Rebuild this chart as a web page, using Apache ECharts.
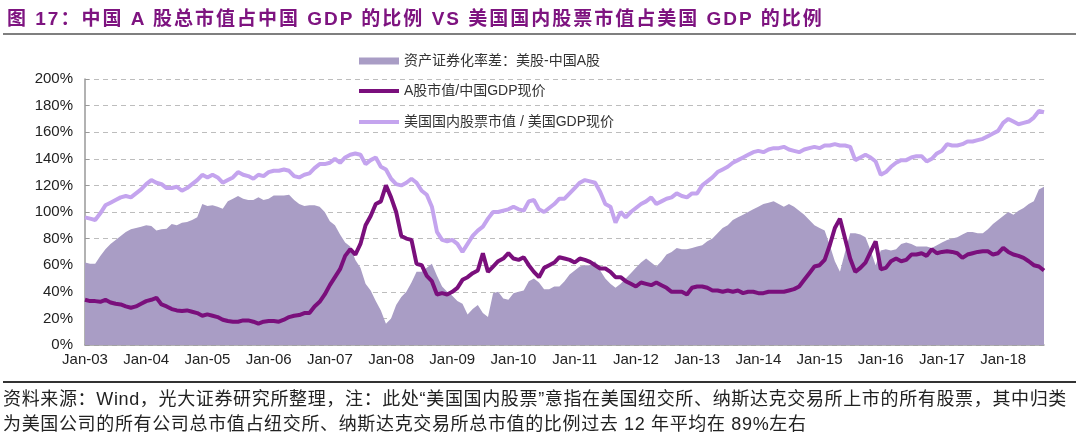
<!DOCTYPE html>
<html><head><meta charset="utf-8">
<script src="https://cdn.jsdelivr.net/npm/echarts@6/dist/echarts.min.js"></script>
<style>
html,body{margin:0;padding:0;background:#fff}
#wrap{position:relative;width:1080px;height:438px}
#c{position:absolute;left:0;top:0;width:1080px;height:438px}
.t{position:absolute;white-space:nowrap;font-family:"Liberation Sans",Arial,"Noto Sans CJK SC",sans-serif}
#title{left:7px;top:3px;font-size:19px;font-weight:bold;color:#7e1480;letter-spacing:2px}
#n1{left:3px;top:384px;font-size:18px;color:#222;letter-spacing:0.65px}
#n2{left:3px;top:409px;font-size:18px;color:#222;letter-spacing:0.65px}
</style>
</head><body><div id="wrap"><div id="c"></div>
<div class="t" id="title"></div><div class="t" id="n1"></div><div class="t" id="n2"></div></div>
<script>
// Monthly data, Jan-2003 .. Sep-2018 (values in %)
const monthNames = ['Jan','Feb','Mar','Apr','May','Jun','Jul','Aug','Sep','Oct','Nov','Dec'];
const firstYear = 2003;
const monthCount = 189;

const seriesNames = ['资产证券化率差：美股-中国A股', 'A股市值/中国GDP现价', '美国国内股票市值 / 美国GDP现价'];

const gapValues = [
  62, 61, 61, 67, 72, 76, 79, 82, 85, 87, 88, 89,
  90, 89.5, 86, 87, 87.5, 91, 90, 92, 92.5, 94, 96, 106,
  104.5, 105, 104, 102.5, 108, 110, 112, 110, 109, 109, 111, 109,
  110, 112.5, 112.5, 112.5, 113, 109, 106, 104.5, 105, 105, 104, 100,
  93, 90, 83, 77, 74, 64, 58, 46, 41, 33, 26, 16,
  20, 30, 36, 40, 47, 55, 55, 58, 61, 52, 44, 40,
  37, 33, 31, 23, 27, 30, 24, 21, 39, 40, 35, 34,
  39, 40, 41, 48, 50, 47, 42, 42, 44, 44, 48, 53,
  56, 59, 60, 60, 63, 56, 50, 46, 43, 46, 50, 54,
  58, 62, 65, 62, 59, 63, 68, 70, 73, 72, 72, 73,
  74, 75, 78, 80, 84, 88, 90, 94, 96, 98, 100, 102,
  104, 106, 107, 108, 106, 104, 106, 104, 101, 98, 94, 90,
  88, 86, 75, 63, 55, 70, 84, 84, 83, 81, 71, 60,
  71, 72, 71, 72, 76, 77, 76, 74, 74, 74, 73, 75,
  77, 79, 80, 81, 83, 85, 85, 84, 84, 87, 91, 94,
  97, 100, 98, 101, 103, 106, 108, 117, 119
];

const chinaValues = [
  34, 33, 33, 32.5, 34, 32, 31, 30.5, 29, 28, 29, 31,
  33, 34, 35.5, 30.5, 29, 27, 26, 25.5, 26, 25, 24, 22,
  23, 22, 21, 19, 18, 17.5, 17.5, 18.5, 18.5, 17.5, 16, 17.5,
  18, 18, 17.5, 19, 21, 22, 22.5, 24, 24, 29, 32.5, 38,
  45, 51, 57, 67, 72, 68, 76, 90, 97, 106, 108, 120,
  111, 100, 82, 80, 79, 61, 60, 52, 48, 38, 39, 38,
  40, 43, 49, 51, 54, 56, 69, 55, 59, 63, 65, 69,
  65, 64, 66, 60, 55, 51, 58, 60, 62, 66, 65, 64,
  62, 65, 64, 62.5, 60, 57.5, 57.5, 55, 51, 51, 48, 46,
  44, 47, 46, 45, 47, 45, 43, 40, 40, 40, 38, 43,
  44, 44, 43, 41, 41, 40, 41, 40, 41, 39, 40, 40,
  39, 39, 40, 40, 40, 40, 41, 42, 44, 49, 54, 59,
  60, 64, 75, 88, 95, 80, 65, 55, 58, 62, 70, 78,
  57, 58, 63, 65, 63, 64, 68, 68, 69, 67, 72, 69,
  70, 70.5, 70, 69, 65.5, 68, 69, 70, 70.5, 70.5, 68, 69,
  73, 70, 68, 67, 65.5, 63, 60, 59, 56
];

const usValues = [
  96, 95, 94, 99, 105, 107, 109, 111, 112, 111, 114, 117,
  121, 124, 122, 121, 118, 118, 119, 116, 118, 121, 124, 128,
  126, 128, 126, 122, 124, 126, 130, 128, 127, 125, 128, 127,
  130, 131, 131, 132, 131, 127, 126, 128, 129, 133, 136, 136,
  137, 140, 137, 141, 143, 144, 143, 136, 139, 141, 134, 132,
  125, 121, 120, 122, 125, 122, 116, 113, 104, 85, 79, 78,
  79, 76, 70, 76, 82, 86, 89, 95, 100, 100, 101, 102,
  104, 102, 101, 108, 109, 102, 100, 103, 106, 110, 110, 114,
  118, 122, 124, 123, 122, 115, 106, 104, 92, 100, 96, 100,
  103, 106, 108, 111, 106, 108, 110, 111, 114, 112, 111, 114,
  114, 120, 123, 126, 130, 132, 134, 137, 139, 141, 143, 145,
  146, 145, 147, 148, 148, 149, 147, 146, 145, 147, 148, 149,
  148, 150, 150, 151, 150, 150, 149, 139, 141, 143, 141, 138,
  128, 130, 134, 137, 139, 139, 141, 142, 142, 138, 140, 144,
  146, 151, 150, 150, 151, 153, 153, 154, 155, 157, 159, 161,
  167, 170, 168, 166, 167, 168, 171, 176, 175
];

const categories = [];
for (let i = 0; i < monthCount; i++) {
  const y = firstYear + Math.floor(i / 12);
  categories.push(monthNames[i % 12] + '-' + String(y % 100).padStart(2, '0'));
}

const titleText = '图 17：中国 A 股总市值占中国 GDP 的比例 VS 美国国内股票市值占美国 GDP 的比例';
const note1 = '资料来源：Wind，光大证券研究所整理，注：此处“美国国内股票”意指在美国纽交所、纳斯达克交易所上市的所有股票，其中归类';
const note2 = '为美国公司的所有公司总市值占纽交所、纳斯达克交易所总市值的比例过去 12 年平均在 89%左右';
document.getElementById('title').textContent = titleText;
document.getElementById('n1').textContent = note1;
document.getElementById('n2').textContent = note2;

const FONT = '"Liberation Sans", Arial, "Noto Sans CJK SC", sans-serif';
const AREA = '#a99dc5', DARK = '#7a0f7c', LIGHT = '#c4a4ee';
const chart = echarts.init(document.getElementById('c'), null, {renderer: 'canvas'});
chart.setOption({
  animation: false,
  backgroundColor: 'transparent',
  grid: {left: 85, right: 36, top: 79, bottom: 93, containLabel: false},
  legend: [
    {
      orient: 'vertical', left: 354, top: 49, itemGap: 16,
      itemWidth: 40, itemHeight: 7, icon: 'rect',
      textStyle: {fontSize: 14, color: '#333', fontFamily: FONT},
      data: [seriesNames[0]]
    },
    {
      orient: 'vertical', left: 354, top: 79, itemGap: 17,
      itemWidth: 40, itemHeight: 4, icon: 'rect',
      textStyle: {fontSize: 14, color: '#333', fontFamily: FONT},
      data: [seriesNames[1], seriesNames[2]]
    }
  ],
  xAxis: {
    type: 'category', data: categories, boundaryGap: false,
    axisLine: {lineStyle: {color: '#999', width: 1.5}},
    axisTick: {inside: true, length: 5, lineStyle: {color: '#bbb'}, interval: (i) => i % 12 === 0},
    axisLabel: {interval: (i) => i % 12 === 0, fontSize: 15, color: '#222', fontFamily: FONT, margin: 7},
    splitLine: {show: false}
  },
  yAxis: {
    type: 'value', min: 0, max: 200, interval: 20,
    axisLine: {show: true, lineStyle: {color: '#999', width: 1.5}},
    axisTick: {show: true, inside: true, length: 4, lineStyle: {color: '#999'}},
    axisLabel: {formatter: '{value}%', fontSize: 15, color: '#222', fontFamily: FONT, margin: 12},
    splitLine: {lineStyle: {type: [5, 4], color: '#bdbdbd', width: 1}}
  },
  series: [
    {
      name: seriesNames[0], type: 'line', data: gapValues, symbol: 'none',
      lineStyle: {width: 0, color: AREA}, itemStyle: {color: AREA},
      areaStyle: {color: AREA, opacity: 1}, z: 1
    },
    {
      name: seriesNames[2], type: 'line', data: usValues, symbol: 'none',
      lineStyle: {width: 4, color: LIGHT}, itemStyle: {color: LIGHT}, z: 2
    },
    {
      name: seriesNames[1], type: 'line', data: chinaValues, symbol: 'none',
      lineStyle: {width: 4, color: DARK}, itemStyle: {color: DARK}, z: 3
    }
  ],
  graphic: [
    {type: 'line', shape: {x1: 3, y1: 34, x2: 1076, y2: 34}, style: {stroke: '#555', lineWidth: 1.5}},
    {type: 'line', shape: {x1: 3, y1: 382, x2: 1076, y2: 382}, style: {stroke: '#333', lineWidth: 2}}
  ]
});
</script></body></html>
